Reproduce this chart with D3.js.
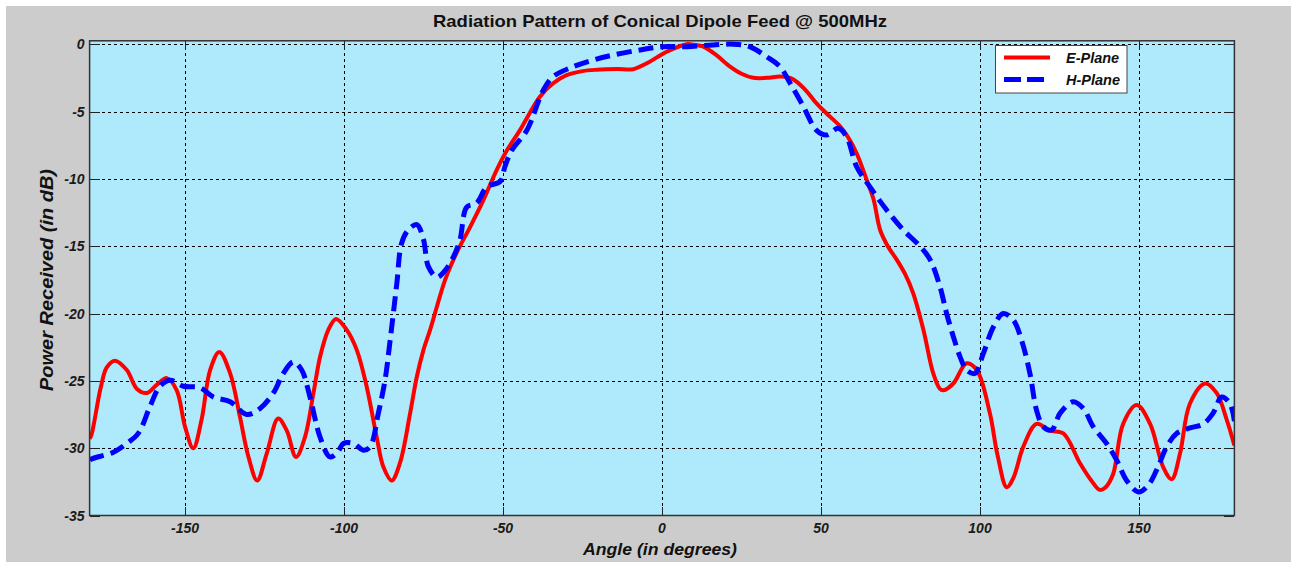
<!DOCTYPE html>
<html><head><meta charset="utf-8">
<script src="https://cdn.jsdelivr.net/npm/d3@7"></script>
<style>body{margin:0;background:#fff;}svg{display:block;}</style>
</head><body>
<script>
const title = "Radiation Pattern of Conical Dipole Feed @ 500MHz";
const xLabel = "Angle (in degrees)";
const yLabel = "Power Received (in dB)";
const seriesNames = ["E-Plane", "H-Plane"];
const xTicks = [-150, -100, -50, 0, 50, 100, 150];
const yTicks = [0, -5, -10, -15, -20, -25, -30, -35];

const eAngle = [-180,-179.4,-176.5,-174.6,-172,-168.3,-165.1,-162,-158.9,-155.7,-152.6,-150,-147.4,-144.8,-142.1,-139.2,-135.8,-132.7,-130.1,-127.3,-124.3,-120.7,-118,-115.1,-112.3,-109.6,-107.5,-104.9,-102.5,-99.2,-96,-92.9,-89.7,-87.6,-85,-82.4,-79.2,-77.1,-75,-72.9,-70.8,-68.2,-64.6,-60.4,-56.2,-52,-48.8,-44.7,-38.4,-34.2,-30,-25,-20.5,-14,-9.1,-4.8,1.5,7.8,10,13,17,21.4,25,28.7,33,37.1,40.3,42.4,45.5,48.6,52,56,58.5,61.2,64.4,66.5,68.6,71,73.8,76.5,79,82.2,85.3,87.4,88.5,91.6,95.8,99,103.1,105.5,108.4,110.5,113.6,117.8,122,126.2,131.4,135,137.7,139.5,141.9,145,149.3,153.5,157.6,160.3,162.9,166,170.8,174.4,177.6,180];
const eValue = [-29.3,-29.0,-25.5,-24.0,-23.5,-24.2,-25.6,-25.9,-25.3,-24.8,-25.7,-28.4,-30.0,-27.9,-24.2,-22.85,-24.45,-27.7,-30.6,-32.4,-30.4,-27.8,-28.7,-30.65,-29.2,-25.9,-23.2,-21.2,-20.4,-21.2,-22.7,-25.4,-29.2,-31.4,-32.4,-31.1,-27.4,-24.7,-22.7,-21.2,-19.5,-17.5,-15.5,-13.6,-11.6,-9.35,-7.9,-6.4,-3.9,-2.9,-2.3,-2.0,-1.9,-1.85,-1.86,-1.42,-0.56,0.0,-0.05,-0.19,-0.8,-1.67,-2.2,-2.5,-2.5,-2.4,-2.5,-2.8,-3.5,-4.4,-5.2,-6.1,-6.9,-8.1,-10.1,-11.5,-13.8,-15.0,-16.0,-17.1,-18.5,-21.2,-24.45,-25.6,-25.7,-25.2,-23.7,-24.2,-27.4,-30.5,-32.9,-32.2,-29.9,-28.2,-28.7,-28.9,-31.1,-32.4,-33.1,-32.9,-31.9,-28.2,-26.8,-28.2,-31.4,-32.3,-30.4,-26.7,-25.2,-25.9,-27.9,-29.8];

const hAngle = [-180,-179.4,-172.5,-168.3,-164.7,-161,-157.9,-154.7,-150.5,-145.3,-141.1,-135.8,-130.6,-126.4,-122.2,-119.1,-115.9,-113.3,-110.7,-107.5,-104.4,-102,-100.2,-97,-93.9,-91.8,-89.2,-87.1,-85.5,-83.4,-81.9,-79.8,-77.1,-75,-73.5,-70.8,-68.2,-65.6,-63.5,-61.4,-58.3,-55.1,-50.9,-49.4,-47.3,-42.5,-37.3,-34.2,-27.9,-21.6,-15.3,-6.9,0.4,7.8,16.1,22.4,27.7,32.9,37.1,40.3,44.4,48.6,51.8,55.4,58.1,61.2,65.4,70.6,75.9,81.1,84.3,87.4,89.5,91.6,93.7,95.8,98.4,101,104.2,107.3,110.5,113.1,115.7,117.8,119.9,122.5,125.2,129.3,132.5,135.6,139.8,143,146.1,149.8,152.9,155.6,158.7,161.9,166,170.2,173.3,176,178.6,180];
const hValue = [-30.9,-30.8,-30.3,-29.65,-28.9,-26.9,-25.4,-24.95,-25.4,-25.5,-26.2,-26.55,-27.5,-27.05,-25.9,-24.45,-23.6,-24.2,-26.2,-29.2,-30.65,-30.3,-29.65,-29.65,-30.15,-29.9,-27.4,-24.95,-22.0,-17.8,-14.8,-13.8,-13.4,-14.5,-16.5,-17.3,-16.8,-15.8,-14.5,-12.1,-11.8,-10.6,-10.2,-9.1,-7.9,-6.4,-3.4,-2.4,-1.67,-1.17,-0.8,-0.43,-0.19,-0.19,-0.06,0.0,-0.2,-0.93,-1.67,-2.9,-4.6,-6.4,-6.75,-6.25,-6.9,-9.1,-10.6,-12.3,-13.8,-15.0,-16.0,-18.0,-20.0,-21.7,-23.2,-24.2,-24.45,-23.0,-21.0,-20.0,-20.5,-22.0,-24.45,-27.2,-28.4,-28.65,-27.4,-26.55,-27.05,-28.4,-29.65,-30.9,-32.4,-33.25,-32.75,-31.6,-29.9,-28.9,-28.5,-28.2,-27.4,-26.2,-26.7,-28.0];

const W = 1291, H = 564;
const L = 89.6, R = 1234.4, T = 40.8, B = 515.5;
const svg = d3.select("body").append("svg").attr("width", W).attr("height", H);
svg.append("rect").attr("x", 6).attr("y", 6).attr("width", W - 6).attr("height", 556).attr("fill", "#cccccc");

const x = d3.scaleLinear().domain([-180, 180]).range([L, R]);
const y = d3.scaleLinear().domain([-35, 0.25]).range([B, T]);

svg.append("rect").attr("x", L).attr("y", T).attr("width", R - L).attr("height", B - T).attr("fill", "#aeeafb");

const defs = svg.append("defs");
defs.append("clipPath").attr("id", "clip").append("rect").attr("x", L).attr("y", T).attr("width", R - L).attr("height", B - T);

// grid
const grid = svg.append("g").attr("stroke", "#000").attr("stroke-width", 1).attr("stroke-dasharray", "3,3").attr("shape-rendering", "crispEdges");
xTicks.forEach(t => grid.append("line").attr("x1", Math.round(x(t)) + 0.5).attr("x2", Math.round(x(t)) + 0.5).attr("y1", T).attr("y2", B));
yTicks.filter(t => t > -35).forEach(t => grid.append("line").attr("y1", Math.round(y(t)) + 0.5).attr("y2", Math.round(y(t)) + 0.5).attr("x1", L).attr("x2", R));

// tick marks inside
const tk = svg.append("g").attr("stroke", "#222").attr("stroke-width", 1).attr("shape-rendering", "crispEdges");
xTicks.forEach(t => {
  const px = Math.round(x(t)) + 0.5;
  tk.append("line").attr("x1", px).attr("x2", px).attr("y1", B).attr("y2", B - 9);
  tk.append("line").attr("x1", px).attr("x2", px).attr("y1", T).attr("y2", T + 9);
});
yTicks.forEach(t => {
  const py = Math.round(y(t)) + 0.5;
  tk.append("line").attr("x1", L).attr("x2", L + 10).attr("y1", py).attr("y2", py);
  tk.append("line").attr("x1", R).attr("x2", R - 10).attr("y1", py).attr("y2", py);
});

// lines
const lineGen = d3.line().x(d => x(d[0])).y(d => y(d[1])).curve(d3.curveCatmullRom.alpha(0.5));
const eData = eAngle.map((a, i) => [a, eValue[i]]);
const hData = hAngle.map((a, i) => [a, hValue[i]]);
const plot = svg.append("g").attr("clip-path", "url(#clip)");
plot.append("path").attr("d", lineGen(eData)).attr("fill", "none").attr("stroke", "#ff0000").attr("stroke-width", 4).attr("stroke-linejoin", "round");
plot.append("path").attr("d", lineGen(hData)).attr("fill", "none").attr("stroke", "#0000ff").attr("stroke-width", 5).attr("stroke-dasharray", "15,7");

// frame
svg.append("rect").attr("x", L).attr("y", T).attr("width", R - L).attr("height", B - T).attr("fill", "none").attr("stroke", "#333").attr("stroke-width", 1.5);

const tickFont = "Liberation Sans, Arial, sans-serif";
// x tick labels
svg.append("g").selectAll("text").data(xTicks).join("text")
  .attr("x", d => x(d)).attr("y", 533).attr("text-anchor", "middle")
  .attr("font-family", tickFont).attr("font-size", 14).attr("font-weight", "bold").attr("font-style", "italic").attr("fill", "#1a1a1a")
  .text(d => d);
// y tick labels
svg.append("g").selectAll("text").data(yTicks).join("text")
  .attr("x", L - 5).attr("y", d => y(d) + 5).attr("text-anchor", "end")
  .attr("font-family", tickFont).attr("font-size", 14).attr("font-weight", "bold").attr("font-style", "italic").attr("fill", "#1a1a1a")
  .text(d => d);

// title
svg.append("text").attr("x", 660).attr("y", 27).attr("text-anchor", "middle")
  .attr("font-family", tickFont).attr("font-size", 17).attr("font-weight", "bold").attr("fill", "#111")
  .attr("textLength", 454).attr("lengthAdjust", "spacingAndGlyphs").text(title);
// axis labels
svg.append("text").attr("x", 660).attr("y", 555).attr("text-anchor", "middle")
  .attr("font-family", tickFont).attr("font-size", 17).attr("font-weight", "bold").attr("font-style", "italic").attr("fill", "#111")
  .attr("textLength", 154).attr("lengthAdjust", "spacingAndGlyphs").text(xLabel);
svg.append("text").attr("transform", "translate(53,280) rotate(-90)").attr("text-anchor", "middle")
  .attr("font-family", tickFont).attr("font-size", 17.5).attr("font-weight", "bold").attr("font-style", "italic").attr("fill", "#111")
  .attr("textLength", 222).attr("lengthAdjust", "spacingAndGlyphs").text(yLabel);

// legend
const lg = svg.append("g");
lg.append("rect").attr("x", 995.5).attr("y", 45.5).attr("width", 131.5).attr("height", 47.5).attr("fill", "#fff").attr("stroke", "#444").attr("stroke-width", 1);
lg.append("line").attr("x1", 1004).attr("x2", 1050).attr("y1", 57.5).attr("y2", 57.5).attr("stroke", "#ff0000").attr("stroke-width", 4);
lg.append("line").attr("x1", 1004).attr("x2", 1045).attr("y1", 79.5).attr("y2", 79.5).attr("stroke", "#0000ff").attr("stroke-width", 5).attr("stroke-dasharray", "17,6");
seriesNames.forEach((n, i) => {
  lg.append("text").attr("x", 1066).attr("y", 63 + i * 22).attr("font-family", tickFont).attr("font-size", 14.5)
    .attr("font-weight", "bold").attr("font-style", "italic").attr("fill", "#111").text(n);
});
</script>
</body></html>
